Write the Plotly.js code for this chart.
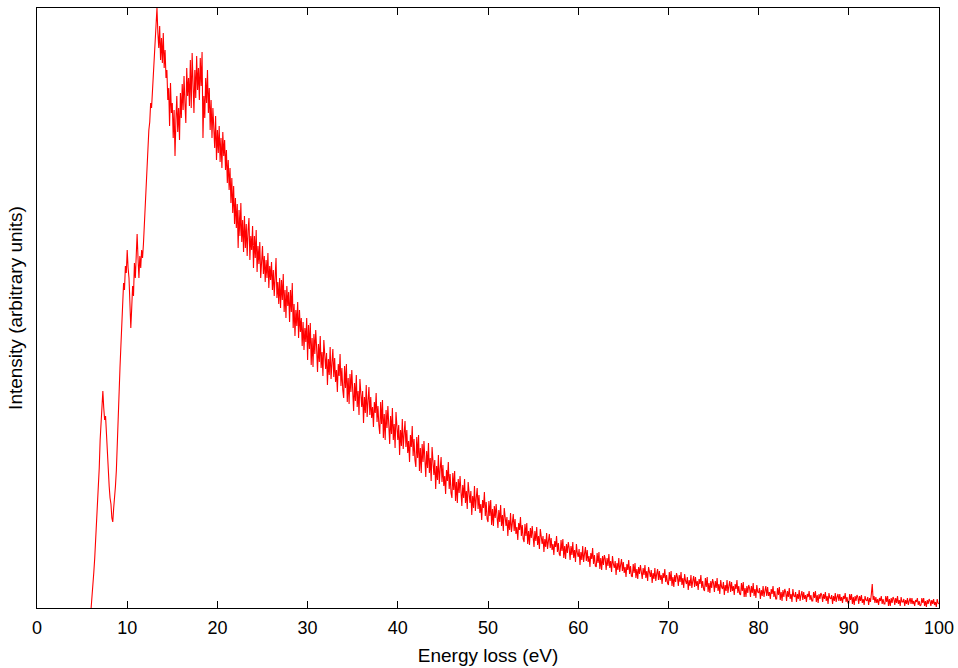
<!DOCTYPE html>
<html>
<head>
<meta charset="utf-8">
<script src="https://cdn.plot.ly/plotly-3.0.1.min.js"></script>
<style>html,body{margin:0;padding:0;background:#fff;}#chart{width:958px;height:668px;}</style>
</head>
<body>
<div id="chart"></div>
<script>
// Energy grid of the spectrum (eV): channels every 0.1 eV starting at 6.0 eV
const energyStart = 6.0;
const energyStep = 0.1;

// Intensity readings (arbitrary units), 10 channels per eV, one row per eV
const intensity6to15 = [
  0, 10, 22, 36, 50, 66, 82, 98, 116, 140,
  168, 185, 198, 217, 200, 188, 192, 170, 158, 140,
  122, 110, 104, 90, 86, 100, 108, 122, 138, 170,
  195, 215, 240, 262, 290, 305, 325, 318, 342, 335,
  358, 340, 330, 305, 280, 300, 322, 312, 345, 330,
  362, 374, 350, 330, 352, 340, 358, 350, 364, 385,
  398, 420, 440, 452, 478, 486, 505, 500, 516, 530,
  548, 568, 585, 600, 575, 560, 582, 548, 570, 545,
  575, 540, 558, 530, 538, 508, 520, 482, 525, 495
];
const intensity15to30 = [
  505, 470, 498, 452, 488, 512, 476, 500, 468, 515,
  490, 524, 498, 532, 505, 485, 540, 512, 530, 502,
  548, 500, 555, 520, 495, 538, 510, 552, 518, 540,
  508, 550, 522, 556, 470, 512, 490, 530, 505, 538,
  495, 520, 478, 508, 470, 500, 482, 460, 492, 448,
  478, 455, 482, 446, 470, 440, 476, 452, 468, 438,
  458, 425, 448, 418, 440, 405, 430, 395, 422, 384,
  410, 380, 404, 360, 398, 372, 405, 366, 388, 356,
  392, 360, 384, 352, 378, 390, 348, 372, 358, 382,
  340, 372, 350, 378, 336, 362, 344, 366, 330, 356,
  362, 334, 352, 326, 348, 330, 355, 320, 342, 328,
  346, 318, 338, 312, 334, 350, 310, 326, 304, 330,
  300, 328, 308, 334, 296, 318, 290, 322, 302, 316,
  286, 318, 296, 325, 280, 304, 272, 298, 282, 306,
  270, 298, 276, 290, 262, 286, 258, 280, 266, 290
];
const intensity30to50 = [
  248, 283, 259, 285, 243, 270, 241, 274, 254, 278,
  260, 236, 264, 246, 272, 240, 256, 232, 268, 250,
  239, 255, 223, 249, 233, 261, 229, 245, 259, 231,
  250, 226, 238, 216, 244, 232, 254, 222, 240, 218,
  210, 242, 220, 244, 206, 230, 204, 234, 216, 238,
  221, 197, 225, 207, 233, 201, 217, 193, 229, 211,
  201, 217, 185, 211, 195, 223, 191, 207, 221, 193,
  211, 190, 201, 181, 206, 195, 215, 186, 202, 183,
  174, 206, 184, 208, 170, 194, 168, 198, 180, 202,
  188, 164, 192, 174, 200, 168, 184, 160, 196, 178,
  168, 183, 153, 178, 162, 189, 159, 174, 187, 161,
  178, 155, 167, 146, 173, 161, 182, 152, 169, 148,
  141, 171, 150, 173, 137, 160, 135, 164, 146, 167,
  154, 131, 157, 140, 165, 135, 150, 127, 161, 144,
  133, 148, 119, 142, 128, 153, 124, 139, 151, 126,
  143, 122, 132, 114, 138, 127, 146, 119, 134, 115,
  110, 135, 118, 137, 107, 126, 105, 129, 115, 132,
  120, 102, 123, 110, 129, 105, 117, 99, 126, 113,
  105, 117, 93, 112, 100, 122, 97, 110, 120, 99,
  113, 95, 104, 88, 108, 100, 116, 92, 106, 89
];
const intensity50to70 = [
  86, 107, 92, 108, 83, 99, 82, 102, 90, 104,
  95, 80, 98, 86, 103, 82, 93, 77, 100, 89,
  82, 91, 72, 88, 78, 95, 76, 85, 94, 77,
  89, 74, 81, 68, 85, 78, 91, 72, 83, 69,
  66, 84, 72, 85, 64, 77, 63, 80, 70, 82,
  74, 61, 77, 67, 81, 63, 72, 59, 79, 69,
  64, 72, 56, 69, 61, 75, 59, 67, 74, 60,
  70, 58, 64, 53, 67, 61, 72, 56, 65, 54,
  52, 68, 57, 69, 50, 62, 49, 64, 55, 66,
  60, 48, 62, 53, 66, 50, 58, 46, 64, 55,
  51, 59, 43, 56, 48, 62, 46, 54, 61, 47,
  58, 46, 52, 41, 55, 49, 60, 44, 53, 42,
  41, 55, 45, 56, 39, 50, 38, 52, 43, 53,
  49, 38, 50, 42, 54, 40, 47, 36, 52, 44,
  40, 47, 33, 45, 38, 50, 36, 43, 49, 37,
  46, 35, 41, 31, 44, 38, 48, 34, 42, 32,
  31, 44, 35, 45, 30, 39, 29, 41, 34, 43,
  38, 29, 40, 33, 43, 30, 37, 27, 41, 34,
  31, 38, 25, 35, 29, 40, 27, 34, 39, 28,
  37, 28, 33, 24, 35, 30, 39, 26, 33, 25
];
const intensity70to100 = [
  23, 36, 27, 37, 22, 31, 21, 33, 26, 35,
  31, 22, 33, 26, 36, 23, 30, 20, 34, 27,
  24, 31, 18, 28, 22, 33, 20, 27, 32, 21,
  31, 22, 27, 18, 29, 24, 33, 20, 27, 19,
  17, 30, 21, 31, 16, 25, 15, 27, 20, 29,
  25, 16, 27, 20, 30, 17, 24, 14, 28, 21,
  19, 26, 13, 23, 17, 28, 15, 22, 27, 16,
  26, 17, 22, 13, 24, 19, 28, 15, 22, 14,
  13, 25, 17, 26, 11, 20, 11, 22, 15, 23,
  20, 11, 22, 15, 25, 12, 19, 10, 23, 16,
  15, 20, 9, 18, 12, 22, 11, 17, 22, 12,
  21, 12, 16, 9, 19, 14, 22, 11, 17, 9,
  9, 20, 13, 21, 8, 16, 7, 18, 11, 19,
  16, 7, 17, 11, 20, 9, 14, 6, 19, 12,
  11, 16, 6, 14, 9, 18, 7, 13, 17, 8,
  16, 9, 13, 6, 14, 11, 17, 8, 13, 7,
  7, 16, 10, 17, 6, 13, 5, 14, 9, 15,
  13, 6, 14, 9, 16, 7, 12, 4, 15, 10,
  9, 13, 4, 12, 7, 15, 6, 11, 14, 7,
  14, 7, 11, 5, 12, 9, 15, 6, 11, 5,
  5, 14, 8, 14, 4, 11, 3, 12, 7, 13,
  11, 4, 12, 7, 13, 5, 9, 3, 12, 8,
  7, 11, 3, 10, 6, 14, 24, 8, 12, 5,
  11, 5, 9, 3, 10, 7, 12, 4, 9, 4,
  4, 12, 6, 12, 2, 9, 2, 10, 5, 11,
  9, 3, 10, 5, 12, 4, 8, 2, 11, 6,
  6, 9, 2, 8, 4, 10, 3, 7, 10, 4,
  10, 4, 7, 2, 8, 6, 10, 3, 7, 2,
  3, 10, 5, 10, 2, 7, 1, 8, 4, 9,
  7, 2, 8, 4, 9, 3, 6, 1, 9, 5,
  4
];

const xTickValues = [0, 10, 20, 30, 40, 50, 60, 70, 80, 90, 100];
const xTickLabels = ['0', '10', '20', '30', '40', '50', '60', '70', '80', '90', '100'];

const intensity = [].concat(intensity6to15, intensity15to30, intensity30to50, intensity50to70, intensity70to100);
const energy = intensity.map((_, i) => +(energyStart + i * energyStep).toFixed(2));

const fontFamily = 'Liberation Sans, Arial, Helvetica, sans-serif';

const trace = {
  x: energy,
  y: intensity,
  type: 'scatter',
  mode: 'lines',
  line: {color: '#ff0000', width: 1.1},
  hoverinfo: 'skip'
};

const layout = {
  width: 958,
  height: 668,
  margin: {l: 37, r: 19, t: 8, b: 60},
  paper_bgcolor: '#ffffff',
  plot_bgcolor: '#ffffff',
  showlegend: false,
  font: {family: fontFamily, color: '#000000', size: 18},
  xaxis: {
    range: [0, 100],
    tickmode: 'array',
    tickvals: xTickValues,
    ticktext: xTickLabels,
    ticks: 'inside',
    ticklen: 7,
    tickwidth: 1,
    tickcolor: '#000000',
    ticklabelstandoff: 3,
    showline: true,
    linecolor: '#000000',
    linewidth: 1,
    mirror: 'ticks',
    showgrid: false,
    zeroline: false,
    tickfont: {family: fontFamily, size: 18, color: '#000000'},
    title: {text: 'Energy loss (eV)', font: {family: fontFamily, size: 19, color: '#000000'}, standoff: 12}
  },
  yaxis: {
    range: [0, 600],
    showticklabels: false,
    ticks: '',
    showline: true,
    linecolor: '#000000',
    linewidth: 1,
    mirror: true,
    showgrid: false,
    zeroline: false,
    title: {text: 'Intensity (arbitrary units)', font: {family: fontFamily, size: 19, color: '#000000'}, standoff: 8}
  }
};

Plotly.newPlot('chart', [trace], layout, {staticPlot: true, displayModeBar: false});
</script>
</body>
</html>
